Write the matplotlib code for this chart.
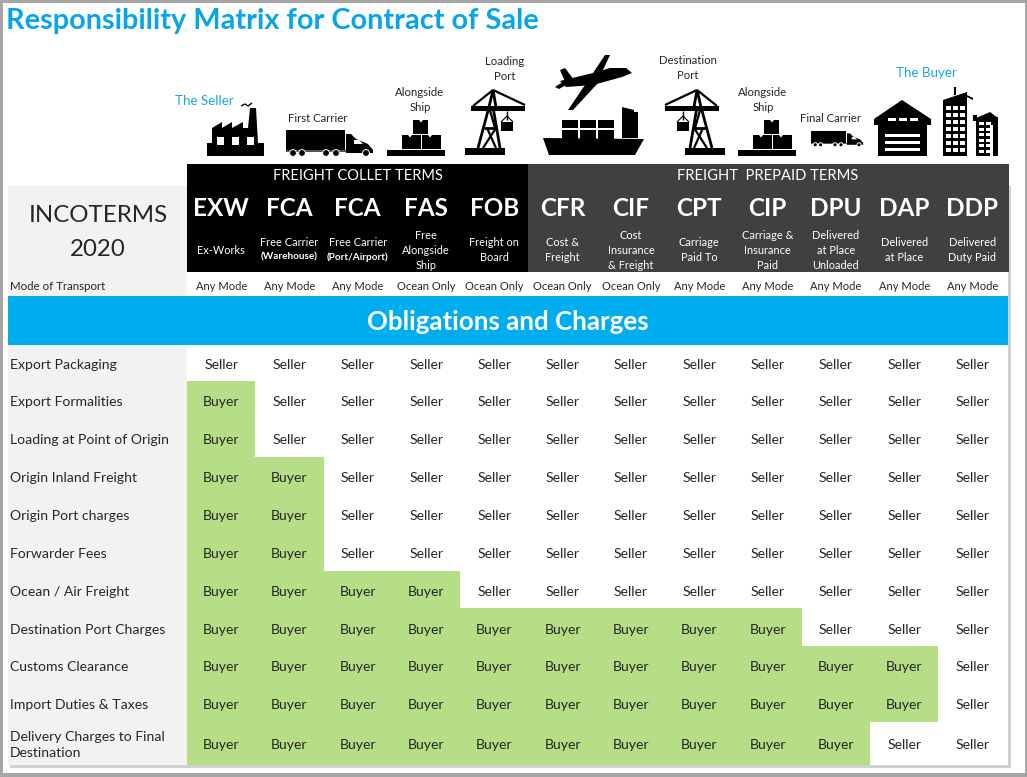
import matplotlib
matplotlib.use("Agg")
import matplotlib.pyplot as plt
from matplotlib.patches import Rectangle, Polygon, Circle

plt.rcParams['font.family'] = ['Lato', 'DejaVu Sans']

TITLE = "Responsibility Matrix for Contract of Sale"
codes = ["EXW", "FCA", "FCA", "FAS", "FOB", "CFR", "CIF", "CPT", "CIP", "DPU", "DAP", "DDP"]
names = ["Ex-Works", "Free Carrier", "Free Carrier", "Free\nAlongside\nShip", "Freight on\nBoard",
         "Cost &\nFreight", "Cost\nInsurance\n& Freight", "Carriage\nPaid To", "Carriage &\nInsurance\nPaid",
         "Delivered\nat Place\nUnloaded", "Delivered\nat Place", "Delivered\nDuty Paid"]
modes = ["Any Mode"] * 3 + ["Ocean Only"] * 4 + ["Any Mode"] * 5
obligations = ["Export Packaging", "Export Formalities", "Loading at Point of Origin", "Origin Inland Freight",
               "Origin Port charges", "Forwarder Fees", "Ocean / Air Freight", "Destination Port Charges",
               "Customs Clearance", "Import Duties & Taxes", "Delivery Charges to Final\nDestination"]
S, B = "Seller", "Buyer"
matrix = [
    [S, S, S, S, S, S, S, S, S, S, S, S],
    [B, S, S, S, S, S, S, S, S, S, S, S],
    [B, S, S, S, S, S, S, S, S, S, S, S],
    [B, B, S, S, S, S, S, S, S, S, S, S],
    [B, B, S, S, S, S, S, S, S, S, S, S],
    [B, B, S, S, S, S, S, S, S, S, S, S],
    [B, B, B, B, S, S, S, S, S, S, S, S],
    [B, B, B, B, B, B, B, B, B, S, S, S],
    [B, B, B, B, B, B, B, B, B, B, B, S],
    [B, B, B, B, B, B, B, B, B, B, B, S],
    [B, B, B, B, B, B, B, B, B, B, S, S],
]
row_edges = [345, 381, 419, 457, 495, 533, 571, 608, 646, 684, 722, 765]
row_text_y = [364, 401, 439, 477, 515, 553, 591, 629, 666, 704, 744]

BLUE = "#00ADEF"
GREEN = "#B5DE86"
PANEL = "#F2F2F2"
DARK = "#404040"
INK = "#262626"

fig = plt.figure(figsize=(10.27, 7.77), dpi=100, facecolor="white")
ax = fig.add_axes([0, 0, 1, 1])
ax.set_xlim(0, 1027)
ax.set_ylim(777, 0)
ax.axis("off")


def rect(x0, y0, x1, y1, c, z=1):
    ax.add_patch(Rectangle((x0, y0), x1 - x0, y1 - y0, facecolor=c, edgecolor="none", zorder=z))


def poly(pts, c="black", z=3):
    ax.add_patch(Polygon(pts, closed=True, facecolor=c, edgecolor="none", zorder=z))


def line(pts, lw=2.0, c="black", z=3):
    ax.plot([p[0] for p in pts], [p[1] for p in pts], color=c, lw=lw, zorder=z, solid_capstyle="butt")


def txt(x, y, s, size=9.2, c=INK, ha="center", w="normal", ls=1.15):
    ax.text(x, y + 1, s, fontsize=size, color=c, ha=ha, va="center", fontweight=w, linespacing=ls, zorder=5)


def factory(x):
    rect(x, 143, x + 57, 156, "black", 3)
    poly([(x + 5, 143), (x + 5, 128), (x + 15, 122), (x + 15, 128), (x + 25, 122), (x + 25, 128),
          (x + 36, 122), (x + 36, 128), (x + 41, 128), (x + 43, 108), (x + 49, 108), (x + 51, 143)])
    for dx in (10, 25, 40):
        rect(x + dx, 137, x + dx + 7, 145, "white", 4)
    line([(x + 34, 106), (x + 38, 104), (x + 41, 106), (x + 45, 103)], lw=1.0)


def truck(x, y, sc):
    rect(x, y, x + 59 * sc, y + 20 * sc, "black", 3)
    poly([(x + 60 * sc, y + 4 * sc), (x + 65 * sc, y + 4 * sc), (x + 70 * sc, y + 9 * sc), (x + 82 * sc, y + 14 * sc),
          (x + 87 * sc, y + 20 * sc), (x + 87 * sc, y + 23 * sc), (x + 60 * sc, y + 23 * sc)])
    poly([(x + 68 * sc, y + 10 * sc), (x + 73 * sc, y + 10 * sc), (x + 77 * sc, y + 14 * sc), (x + 68 * sc, y + 14 * sc)], "white", 4)
    rect(x, y + 20 * sc, x + 60 * sc, y + 22 * sc, "#555555", 3)
    for dx in (7, 16, 40, 50, 80):
        ax.add_patch(Circle((x + dx * sc, y + 23 * sc), 3.4 * sc, fc="black", ec="white", lw=0.7, zorder=5))


def boxes(x):
    rect(x, 150, x + 58, 156, "black", 3)
    for bx, by in ((x + 15, 135), (x + 35, 135), (x + 26, 120)):
        rect(bx, by, bx + (15 if by == 120 else 19), by + 14, "black", 3)
        poly([(bx + 6, by), (bx + 10, by), (bx + 8, by + 2.5)], "white", 4)


def crane(x, flip=False):
    def X(v):
        return x + (60 - v if flip else v)
    rect(min(X(0), X(40)), 148, max(X(0), X(40)), 155, "black", 3)
    line([(X(13), 148), (X(24), 107)], 2.0)
    line([(X(35), 148), (X(28), 107)], 2.0)
    line([(X(19), 128), (X(31), 128)], 2.0)
    line([(X(22), 128), (X(31), 148)], 1.6)
    line([(X(31), 128), (X(18), 148)], 1.6)
    line([(X(24), 107), (X(30), 128)], 1.6)
    rect(min(X(6), X(60)), 106, max(X(6), X(60)), 111, "black", 3)
    line([(X(28), 90), (X(8), 106)], 1.6)
    line([(X(28), 90), (X(60), 105)], 1.6)
    line([(X(28), 90), (X(24), 107)], 2.0)
    line([(X(28), 90), (X(31), 107)], 2.0)
    line([(X(42), 111), (X(42), 120)], 1.0)
    line([(X(36), 122), (X(42), 116), (X(48), 122)], 0.8)
    rect(min(X(36), X(48)), 122, max(X(36), X(48)), 131, "black", 3)


def ship_plane():
    poly([(543, 138), (644, 139), (635, 155), (549, 155)])
    for xx in (562, 580, 598):
        rect(xx, 120, xx + 15.5, 128, "black", 3)
        rect(xx, 130, xx + 15.5, 138.5, "black", 3)
    rect(622, 112, 638, 138, "black", 3)
    poly([(622, 107), (634, 110), (634, 113), (622, 113)])
    # aeroplane
    poly([(560, 81), (593, 73), (610, 68), (626, 68), (632, 73), (622, 77), (593, 85), (566, 87)])
    poly([(593, 73), (602, 72), (610, 55), (605, 55)])
    poly([(585, 85), (598, 83), (573, 110), (568, 110)])
    poly([(560, 70), (565, 68), (574, 80), (566, 84)])
    poly([(555, 87), (570, 77), (575, 80), (559, 89)])


def warehouse():
    poly([(874, 119), (902, 100), (931, 119), (931, 125), (874, 125)])
    rect(878, 124, 927, 156, "black", 3)
    for xx in (888, 899, 910):
        rect(xx, 118, xx + 8, 121, "white", 4)
    for yy in (134, 141, 148):
        rect(885, yy, 920, yy + 3, "white", 4)


def buildings():
    poly([(943, 100), (967, 92), (967, 156), (943, 156)])
    line([(955, 95), (955, 87)], 1.5)
    poly([(965, 96), (973, 100), (973, 98), (965, 94)])
    for r in range(7):
        for c in (946, 953, 960):
            rect(c, 106 + r * 7, c + 5, 110 + r * 7, "white", 4)
    rect(973, 115, 977, 121, "black", 3)
    poly([(976, 118), (990, 112), (998, 118), (998, 156), (976, 156)])
    for r in range(6):
        for c in (979, 986):
            rect(c, 122 + r * 5.5, c + 5, 125 + r * 5.5, "white", 4)
    rect(990, 125, 994, 156, "white", 4)
    rect(993, 117, 998, 156, "black", 4)


# frame and shadow
rect(0, 0, 1027, 777, "#A6A6A6", 0)
rect(3, 3, 1025, 773, "white", 0.5)
rect(10, 765, 1011, 768, "#D0D0D0", 0.7)
rect(1008, 186, 1011, 768, "#D0D0D0", 0.7)

# header bands
rect(8, 186, 187, 296, PANEL)
rect(187, 164, 528, 272, "black")
rect(528, 164, 1009, 272, DARK)
rect(187, 272, 1008, 296, "white")
rect(8, 296, 1008, 345, BLUE)
rect(8, 345, 187, 765, PANEL)

col0, colw = 187.0, 68.3
centers = [col0 + colw * (i + 0.5) for i in range(12)]

for r, row in enumerate(matrix):
    for c, who in enumerate(row):
        if who == B:
            rect(col0 + colw * c, row_edges[r], col0 + colw * (c + 1), row_edges[r + 1], GREEN, 1.5)
        txt(centers[c], row_text_y[r], who, size=10.1)
    txt(10, row_text_y[r], obligations[r], size=10.1, ha="left", ls=1.45)

# texts
txt(6, 20, TITLE, size=20.8, c="#0AA5E6", ha="left", w="bold")
txt(98, 215, "INCOTERMS", size=17.3)
txt(98, 249, "2020", size=17.3)
txt(10, 285, "Mode of Transport", size=8.3, ha="left")
txt(358, 175, "FREIGHT COLLET TERMS", size=10.5, c="white")
txt(768, 175, "FREIGHT  PREPAID TERMS", size=10.6, c="white")
for i, x in enumerate(centers):
    txt(x, 208, codes[i], size=17.5, c="white", w="bold")
    txt(x, 285, modes[i], size=8.0)
    nlines = names[i].count("\n") + 1
    if i in (1, 2):
        txt(x, 242, names[i], size=7.9, c="white")
    else:
        txt(x, {1: 249, 2: 249, 3: 249.5}[nlines], names[i], size=7.9, c="white", ls=1.4)
txt(centers[1], 256, "(Warehouse)", size=7.2, c="white", w="bold")
txt(centers[2], 256, "(Port/Airport)", size=7.2, c="white", w="bold")
txt(508, 321, "Obligations and Charges", size=18.6, c="white", w="bold")

txt(204, 100, "The Seller", size=9.6, c="#1AA7E0")
txt(318, 117, "First Carrier", size=8.2)
txt(420, 99, "Alongside\nShip", size=8.2, ls=1.4)
txt(505, 68, "Loading\nPort", size=8.2, ls=1.4)
txt(688, 67, "Destination\nPort", size=8.2, ls=1.4)
txt(763, 99, "Alongside\nShip", size=8.2, ls=1.4)
txt(831, 117, "Final Carrier", size=8.2)
txt(926, 72, "The Buyer", size=9.6, c="#1AA7E0")

# pictograms
factory(207)
truck(286, 130, 1.0)
boxes(387)
crane(465)
ship_plane()
crane(665, flip=True)
boxes(738)
truck(811, 131, 0.6)
warehouse()
buildings()

fig.savefig("out.png", dpi=100, facecolor="white")
